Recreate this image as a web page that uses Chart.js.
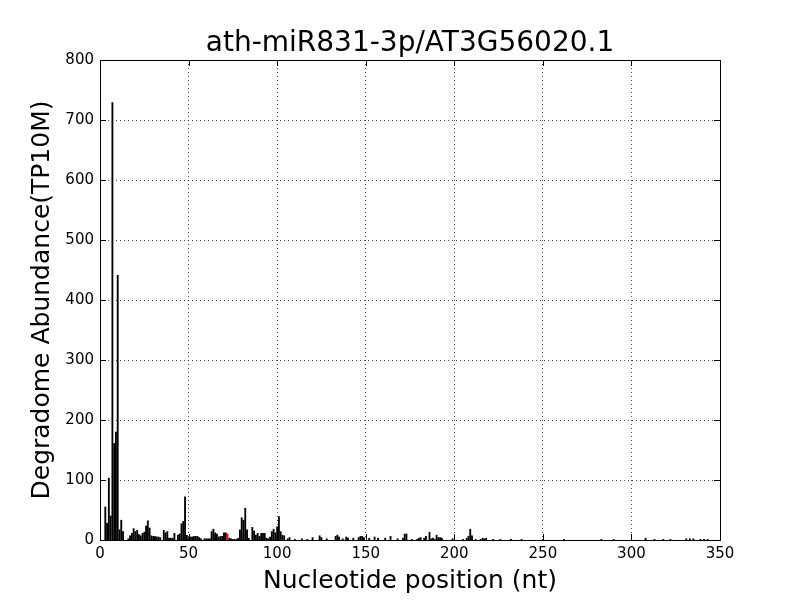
<!DOCTYPE html>
<html>
<head>
<meta charset="utf-8">
<script src="https://cdn.jsdelivr.net/npm/chart.js@4.4.0/dist/chart.umd.min.js"></script>
<style>
  html, body { margin: 0; padding: 0; background: #fff; }
  #wrap { width: 800px; height: 600px; }
</style>
</head>
<body>
<div id="wrap"><canvas id="chart" width="800" height="600"></canvas></div>
<script>
const chartTitle = 'ath-miR831-3p/AT3G56020.1';
const xLabel = 'Nucleotide position (nt)';
const yLabel = 'Degradome Abundance(TP10M)';
const cleaveSite = 72;

// nucleotide positions with reads, and their abundance
const positions = [
  3, 4, 5, 6, 7, 8, 9, 10, 11, 12, 13, 16, 17, 18, 19, 20, 21, 22, 23, 24,
  25, 26, 27, 28, 29, 30, 31, 32, 33, 34, 36, 37, 38, 39, 40, 41, 42, 44, 45, 46,
  47, 48, 49, 50, 51, 52, 53, 54, 55, 56, 57, 59, 60, 61, 62, 63, 64, 65, 66, 67,
  68, 69, 70, 71, 72, 73, 74, 75, 76, 77, 78, 79, 80, 81, 82, 83, 84, 86, 87, 88,
  89, 90, 91, 92, 93, 94, 95, 96, 97, 98, 99, 100, 101, 102, 103, 104, 106, 107, 110, 114,
  117, 120, 124, 125, 128, 133, 134, 135, 137, 139, 140, 143, 146, 147, 148, 149, 152, 155, 157, 161,
  164, 168, 171, 172, 173, 176, 179, 180, 181, 183, 184, 186, 187, 188, 189, 190, 191, 192, 193, 199,
  205, 207, 208, 209, 210, 212, 215, 216, 217, 218, 222, 226, 232, 238, 250, 262, 283, 290, 308, 313,
  318, 322, 331, 333, 335, 339, 341, 343
];
const abundance = [
  55, 28, 103, 40, 729, 161, 180, 441, 17, 33, 14, 2, 7, 11, 19, 14, 16, 9, 7, 11,
  13, 23, 32, 20, 7, 6, 6, 5, 5, 4, 16, 12, 14, 3, 3, 3, 11, 8, 10, 27,
  31, 72, 8, 4, 5, 5, 6, 6, 6, 4, 2, 2, 2, 2, 2, 14, 18, 12, 10, 5,
  6, 6, 12, 12, 10, 3, 2, 1, 1, 1, 3, 17, 37, 33, 53, 17, 3, 21, 15, 8,
  11, 6, 11, 11, 11, 3, 2, 5, 14, 18, 12, 22, 39, 14, 8, 7, 2, 4, 1, 2,
  1, 4, 7, 4, 2, 6, 8, 5, 2, 5, 3, 3, 4, 6, 6, 4, 3, 5, 3, 3,
  6, 2, 3, 10, 10, 1, 1, 3, 4, 3, 6, 13, 2, 3, 1, 8, 4, 4, 3, 2,
  1, 3, 6, 18, 7, 1, 1, 3, 2, 3, 1, 1, 1, 1, 1, 1, 1, 1, 3, 1,
  1, 1, 2, 2, 2, 1, 1, 1
];

const xTicksMax = 350;
const yTicksMax = 800;

const barData = positions.map((p, i) => ({ x: p, y: abundance[i] }));
const barColors = positions.map(p => p === cleaveSite ? '#ff0000' : '#000000');

const fontFamily = '"DejaVu Sans", sans-serif';

// title centred over the plot area, like matplotlib does it
const plotTitle = {
  id: 'plotTitle',
  afterDraw(chart) {
    const { ctx, chartArea: a } = chart;
    ctx.save();
    ctx.fillStyle = '#000';
    ctx.font = '28px ' + fontFamily;
    ctx.textAlign = 'center';
    ctx.textBaseline = 'middle';
    ctx.fillText(chartTitle, (a.left + a.right) / 2, 44);
    ctx.restore();
  }
};

// matplotlib-style frame with inward tick marks on all four sides
const frameAndTicks = {
  id: 'frameAndTicks',
  afterDatasetsDraw(chart) {
    const { ctx, chartArea: a, scales: { x, y } } = chart;
    ctx.save();
    ctx.strokeStyle = '#000';
    ctx.lineWidth = 1;
    ctx.beginPath();
    x.ticks.forEach(t => {
      const px = Math.round(x.getPixelForValue(t.value)) + 0.5;
      ctx.moveTo(px, a.bottom);
      ctx.lineTo(px, a.bottom - 6);
      ctx.moveTo(px, a.top);
      ctx.lineTo(px, a.top + 6);
    });
    y.ticks.forEach(t => {
      const py = Math.round(y.getPixelForValue(t.value)) + 0.5;
      ctx.moveTo(a.left, py);
      ctx.lineTo(a.left + 6, py);
      ctx.moveTo(a.right, py);
      ctx.lineTo(a.right - 6, py);
    });
    ctx.stroke();
    ctx.strokeRect(Math.round(a.left) + 0.5, Math.round(a.top) + 0.5,
      Math.round(a.right - a.left), Math.round(a.bottom - a.top));
    ctx.restore();
  }
};

new Chart(document.getElementById('chart'), {
  type: 'bar',
  data: {
    datasets: [{
      data: barData,
      backgroundColor: barColors,
      borderWidth: 0,
      barThickness: 1.2,
      grouped: false
    }]
  },
  options: {
    responsive: false,
    animation: false,
    devicePixelRatio: 1,
    layout: { padding: { top: 60, right: 80, bottom: 0, left: 0 } },
    plugins: {
      legend: { display: false },
      tooltip: { enabled: false },
      title: { display: false }
    },
    scales: {
      x: {
        type: 'linear',
        min: 0,
        max: xTicksMax,
        offset: false,
        afterFit: s => { s.height = 60; },
        grid: { color: '#000', lineWidth: 0.7, drawTicks: false, offset: false },
        border: { display: false, dash: [1, 3] },
        ticks: { stepSize: 50, color: '#000', padding: 5, maxRotation: 0, font: { family: fontFamily, size: 15 } },
        title: {
          display: true,
          text: xLabel,
          color: '#000',
          font: { family: fontFamily, size: 25 },
          padding: { top: 0, bottom: 4 }
        }
      },
      y: {
        min: 0,
        max: yTicksMax,
        afterFit: s => { s.width = 100; },
        grid: { color: '#000', lineWidth: 0.7, drawTicks: false },
        border: { display: false, dash: [1, 3] },
        ticks: { stepSize: 100, color: '#000', padding: 6, font: { family: fontFamily, size: 15 } },
        title: {
          display: true,
          text: yLabel,
          color: '#000',
          font: { family: fontFamily, size: 25 },
          padding: { top: 27, bottom: 0 }
        }
      }
    }
  },
  plugins: [frameAndTicks, plotTitle]
});
</script>
</body>
</html>
